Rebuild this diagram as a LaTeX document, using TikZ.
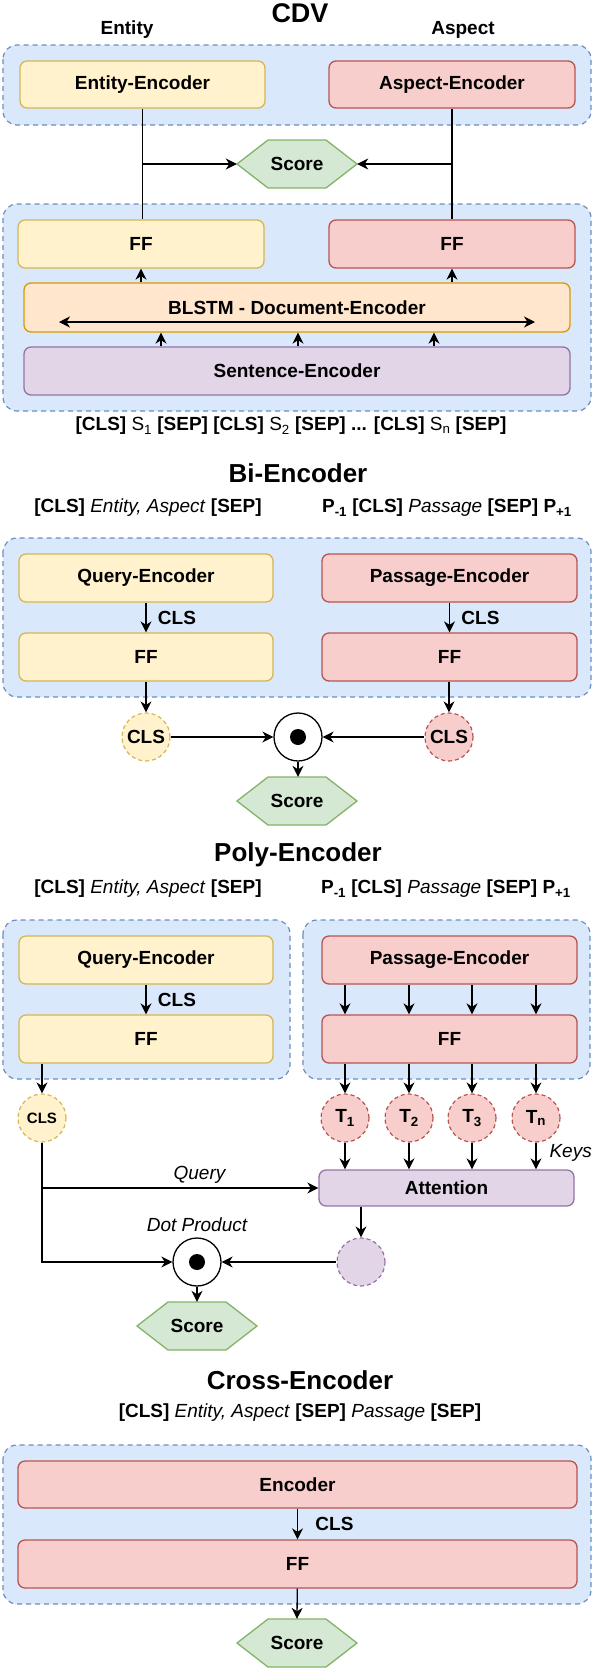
\documentclass[tikz,border=0pt]{standalone}
\usepackage{fontspec}
\setmainfont{Liberation Sans}
\usepackage{tikz}
\usetikzlibrary{arrows.meta,positioning}

\definecolor{grpfill}{HTML}{DAE8FC}
\definecolor{grpdraw}{HTML}{6C8EBF}
\definecolor{yfill}{HTML}{FFF2CC}
\definecolor{ydraw}{HTML}{D6B656}
\definecolor{rfill}{HTML}{F8CECC}
\definecolor{rdraw}{HTML}{B85450}
\definecolor{ofill}{HTML}{FFE6CC}
\definecolor{odraw}{HTML}{D79B00}
\definecolor{pfill}{HTML}{E1D5E7}
\definecolor{pdraw}{HTML}{9673A6}
\definecolor{gfill}{HTML}{D5E8D4}
\definecolor{gdraw}{HTML}{82B366}

\tikzset{
  txt/.style={font=\fontsize{19}{22}\selectfont\bfseries},
  ttl/.style={font=\fontsize{26}{30}\selectfont\bfseries},
  subttl/.style={font=\fontsize{19}{22}\selectfont},
  itl/.style={font=\fontsize{19}{22}\selectfont\itshape},
  grp/.style={draw=grpdraw, fill=grpfill, line width=1.2pt, dash pattern=on 5pt off 4pt, rounded corners=14pt},
  box/.style={txt, rectangle, rounded corners=7pt, line width=1.3pt, inner sep=0pt},
  ybox/.style={box, draw=ydraw, fill=yfill},
  rbox/.style={box, draw=rdraw, fill=rfill},
  obox/.style={box, draw=odraw, fill=ofill},
  pbox/.style={box, draw=pdraw, fill=pfill},
  tok/.style={txt, circle, dash pattern=on 4pt off 3pt, line width=1.2pt, minimum size=48pt, inner sep=0pt},
  dotc/.style={circle, draw=black, fill=white, line width=1.3pt, minimum size=48pt, inner sep=0pt},
  hexln/.style={draw=gdraw, fill=gfill, line width=1.3pt},
  ln/.style={line width=1.3pt},
  arr/.style={ln, -{Stealth[length=11pt, width=11pt, inset=3.5pt]}},
  arrboth/.style={ln, {Stealth[length=11pt, width=11pt, inset=3.5pt]}-{Stealth[length=11pt, width=11pt, inset=3.5pt]}}
}

\newcommand{\scorehex}[3]{%
  \draw[hexln] ({#2-60},{#3}) -- ({#2-29},{#3-24}) -- ({#2+29},{#3-24}) -- ({#2+60},{#3}) -- ({#2+29},{#3+24}) -- ({#2-29},{#3+24}) -- cycle;
  \node[txt, minimum width=120, minimum height=48, inner sep=0pt] (#1) at (#2,#3) {Score};}

\begin{document}
\begin{tikzpicture}[x=1pt, y=-1pt]
\useasboundingbox (0,0) rectangle (594,1668);

\node[ttl, font=\fontsize{27}{30}\selectfont\bfseries] (cdvt) at (300,13) {CDV};
\node[txt] (entl) at (127,30) {Entity};
\node[txt] (aspl) at (463,30) {Aspect};
\draw[grp] (3,45) rectangle (591,125);
\node[ybox, minimum width=245, minimum height=47] (entenc) at (142.5,84.5) {Entity-Encoder};
\node[rbox, minimum width=246, minimum height=47] (aspenc) at (452,84.5) {Aspect-Encoder};
\scorehex{cdvsc}{297}{164}
\draw[grp] (3,204) rectangle (591,411);
\node[ybox, minimum width=246, minimum height=48] (entff) at (141,244) {FF};
\node[rbox, minimum width=246, minimum height=48] (aspff) at (452,244) {FF};
\node[obox, minimum width=546, minimum height=49] (blstm) at (297,307.5) {BLSTM - Document-Encoder};
\coordinate (dl) at (59,322);
\coordinate (dr) at (535,322);
\draw[arrboth] (dl) -- (dr);
\node[pbox, minimum width=546, minimum height=48] (sent) at (297,371) {Sentence-Encoder};
\draw[ln] (entenc.south) -- (entenc.south |- entff.north);
\draw[arr] (entenc.south |- cdvsc.west) -- (cdvsc.west);
\draw[ln] (aspenc.south) -- (aspenc.south |- aspff.north);
\draw[arr] (aspenc.south |- cdvsc.east) -- (cdvsc.east);
\draw[arr] (entff.south |- blstm.north) -- (entff.south);
\draw[arr] (aspff.south |- blstm.north) -- (aspff.south);
\foreach \x in {161,298,434}
  \draw[arr] (sent.north -| \x,0) -- (blstm.south -| \x,0);
\node[subttl] (seq) at (291,426) {\textbf{[CLS]} S\textsubscript{1} \textbf{[SEP] [CLS]} S\textsubscript{2} \textbf{[SEP] ... [CLS]} S\textsubscript{n} \textbf{[SEP]}};

\node[ttl] (bit) at (298,473) {Bi-Encoder};
\node[subttl] (biq) at (148,508) {\textbf{[CLS]} \textit{Entity, Aspect} \textbf{[SEP]}};
\node[subttl] (bip) at (447,508) {\textbf{P\textsubscript{-1} [CLS]} \textit{Passage} \textbf{[SEP] P\textsubscript{+1}}};
\draw[grp] (3,538) rectangle (591,697);
\node[ybox, minimum width=254, minimum height=48] (biqenc) at (146,578) {Query-Encoder};
\node[rbox, minimum width=255, minimum height=48] (bipenc) at (449.5,578) {Passage-Encoder};
\node[ybox, minimum width=254, minimum height=48] (biqff) at (146,657) {FF};
\node[rbox, minimum width=255, minimum height=48] (bipff) at (449.5,657) {FF};
\draw[arr] (biqenc) -- node[txt, right=8pt] {CLS} (biqff);
\draw[arr] (bipenc) -- node[txt, right=8pt] {CLS} (bipff);
\node[tok, draw=ydraw, fill=yfill] (biqcls) at (146,737) {CLS};
\node[tok, draw=rdraw, fill=rfill] (bipcls) at (449,737) {CLS};
\node[dotc] (bidot) at (298,737) {};
\fill (bidot) circle (8pt);
\draw[arr] (biqff) -- (biqcls);
\draw[arr] (bipff.south -| bipcls) -- (bipcls);
\draw[arr] (biqcls) -- (bidot);
\draw[arr] (bipcls) -- (bidot);
\scorehex{bisc}{297}{801}
\draw[arr] (bidot.south) -- (bidot.south |- bisc.north);

\node[ttl] (polyt) at (298,855) {Poly-Encoder};
\node[subttl] (poq) at (148,889) {\textbf{[CLS]} \textit{Entity, Aspect} \textbf{[SEP]}};
\node[subttl] (pop) at (446,889) {\textbf{P\textsubscript{-1} [CLS]} \textit{Passage} \textbf{[SEP] P\textsubscript{+1}}};
\draw[grp] (3,920) rectangle (290,1079);
\draw[grp] (303,920) rectangle (590,1079);
\node[ybox, minimum width=254, minimum height=48] (poqenc) at (146,960) {Query-Encoder};
\node[ybox, minimum width=254, minimum height=48] (poqff) at (146,1039) {FF};
\node[rbox, minimum width=255, minimum height=48] (popenc) at (449.5,960) {Passage-Encoder};
\node[rbox, minimum width=255, minimum height=48] (popff) at (449.5,1039) {FF};
\draw[arr] (poqenc) -- node[txt, right=8pt] {CLS} (poqff);
\node[tok, draw=ydraw, fill=yfill, font=\fontsize{15}{17}\selectfont\bfseries] (poqcls) at (42,1118) {CLS};
\draw[arr] (poqff.south -| poqcls) -- (poqcls);
\node[pbox, minimum width=255, minimum height=36] (att) at (446.5,1188) {Attention};
\foreach \x/\t [count=\i] in {345/1,409/2,472/3,536/n} {
  \node[tok, draw=rdraw, fill=rfill] (tk\i) at (\x,1118) {T\textsubscript{\t}};
  \draw[arr] (popenc.south -| tk\i) -- (popff.north -| tk\i);
  \draw[arr] (popff.south -| tk\i) -- (tk\i);
  \draw[arr] (tk\i) -- (tk\i |- att.north);
}
\node[itl, anchor=west] (keys) at (546,1153) {Keys};
\node[dotc] (podot) at (197,1262) {};
\fill (podot) circle (8pt);
\node[tok, draw=pdraw, fill=pfill] (pool) at (361,1262) {};
\draw[arr] (poqcls) -- (poqcls |- podot) -- (podot);
\draw[arr] (poqcls |- att.west) -- node[itl, pos=0.57, above=1pt] {Query} (att);
\draw[arr] (att.south -| pool) -- (pool);
\draw[arr] (pool) -- (podot);
\node[itl, above=2pt of podot] (dotp) {Dot Product};
\scorehex{posc}{197}{1326}
\draw[arr] (podot) -- (posc.north);

\node[ttl] (crt) at (300,1380) {Cross-Encoder};
\node[subttl] (crs) at (300,1413) {\textbf{[CLS]} \textit{Entity, Aspect} \textbf{[SEP]} \textit{Passage} \textbf{[SEP]}};
\draw[grp] (3,1445) rectangle (591,1604);
\node[rbox, minimum width=559, minimum height=47] (crenc) at (297.5,1484.5) {Encoder};
\node[rbox, minimum width=559, minimum height=48] (crff) at (297.5,1564) {FF};
\draw[arr] (crenc) -- node[txt, right=14pt] {CLS} (crff);
\scorehex{crsc}{297}{1643}
\draw[arr] (crff) -- (crsc.north);
\end{tikzpicture}
\end{document}
